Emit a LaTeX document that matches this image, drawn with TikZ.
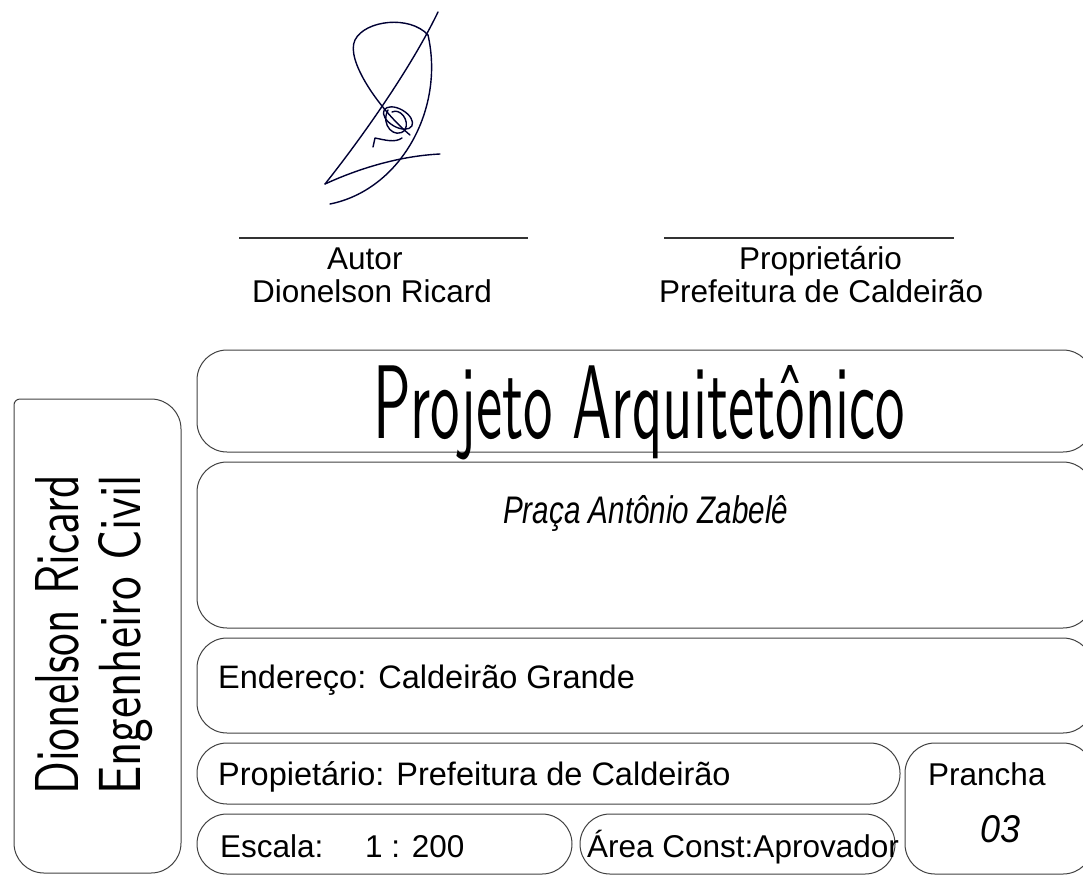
\documentclass[tikz,border=0pt]{standalone}
\usepackage{fontspec}
\usepackage{graphicx}
\setmainfont{Liberation Sans}
\tikzset{
  frame/.style={draw=black!75,line width=1pt},
  boxr/.style={frame,rounded corners=30pt},
  lbl/.style={inner sep=0pt,anchor=base west,font=\fontsize{31.5}{33}\selectfont},
  lblw/.style={lbl,font=\fontsize{32.5}{34}\selectfont},
  hand/.style={inner sep=0pt,anchor=base west},
  sig/.style={draw=black!80!blue,line width=1.4pt,line cap=round,line join=round},
  sigline/.style={draw=black!80,line width=2pt}
}
\begin{document}
\begin{tikzpicture}[x=1pt,y=-1pt]
\useasboundingbox (0,0) rectangle (1083,878);
% signature
\draw[sig] (330,204) .. controls (400,190) and (445,110) .. (428,35);
\draw[sig] (438,12) .. controls (410,70) and (360,140) .. (325,184);
\draw[sig] (325,184) .. controls (360,168) and (400,156) .. (440,154);
\draw[sig] (410,135) .. controls (380,110) and (345,60) .. (355,40) .. controls (365,20) and (410,15) .. (428,35);
\draw[sig] (398,118) ellipse [x radius=16, y radius=9, rotate=-30];
\draw[sig] (388,110) .. controls (380,125) and (395,140) .. (405,130) .. controls (410,120) and (400,108) .. (392,112);
\draw[sig] (373,147) -- (375,138) .. controls (385,140) and (395,143) .. (402,138);
% signature lines and captions
\coordinate (l1a) at (239,238); \coordinate (l1b) at (528,238);
\coordinate (l2a) at (664,238); \coordinate (l2b) at (954,238);
\draw[sigline] (l1a) -- (l1b);
\draw[sigline] (l2a) -- (l2b);
\node[lbl] (autor) at (327,269) {Autor};
\node[lbl] (autorn) at (252,302) {Dionelson Ricard};
\node[lbl] (prop) at (739,269) {Proprietário};
\node[lbl] (propn) at (659,302) {Prefeitura de Caldeirão};
% boxes
\begin{scope}
\clip (0,0) rectangle (1083,878);
\draw[boxr] (197,350) rectangle (1093,452);
\draw[boxr] (197,462) rectangle (1093,628);
\draw[boxr] (197,638) rectangle (1093,733);
\draw[boxr] (197,743) rectangle (900,804);
\draw[boxr] (197,814) rectangle (572,874);
\draw[boxr] (580,814) rectangle (895,874);
\draw[boxr] (905,743) rectangle (1093,874);
\end{scope}
\draw[frame] (14,405) .. controls (14,401.7) and (16.7,399) .. (20,399) -- (151,399)
  .. controls (167.57,399) and (181,412.43) .. (181,429) -- (181,843)
  .. controls (181,859.57) and (167.57,873) .. (151,873) -- (44,873)
  .. controls (27.43,873) and (14,859.57) .. (14,843) -- cycle;
% texts
\node[hand] (title) at (373,438) {\resizebox{532pt}{73pt}{\sffamily Projeto Arquitet\^onico}};
\node[hand] (praca) at (503,523) {\resizebox{285pt}{28pt}{\itshape Pra\c{c}a Ant\^onio Zabel\^e}};
\node[hand,rotate=90] (dr) at (78,795) {\resizebox{320pt}{43pt}{\sffamily Dionelson Ricard}};
\node[hand,rotate=90] (ec) at (140,795) {\resizebox{320pt}{42pt}{\sffamily Engenheiro Civil}};
\node[lblw] (end) at (218,688) {Endereço: Caldeirão Grande};
\node[lblw] (pro) at (218,785) {Propietário: Prefeitura de Caldeirão};
\node[lbl] (esc) at (220,857) {Escala:};
\node[lbl] (escv) at (365,857) {1 : 200};
\node[lbl] (area) at (587,857) {Área Const:Aprovador};
\node[lbl] (pran) at (928,785) {Prancha};
\node[hand] (num) at (980,842) {\resizebox{40pt}{27pt}{\itshape 03}};
\end{tikzpicture}
\end{document}
